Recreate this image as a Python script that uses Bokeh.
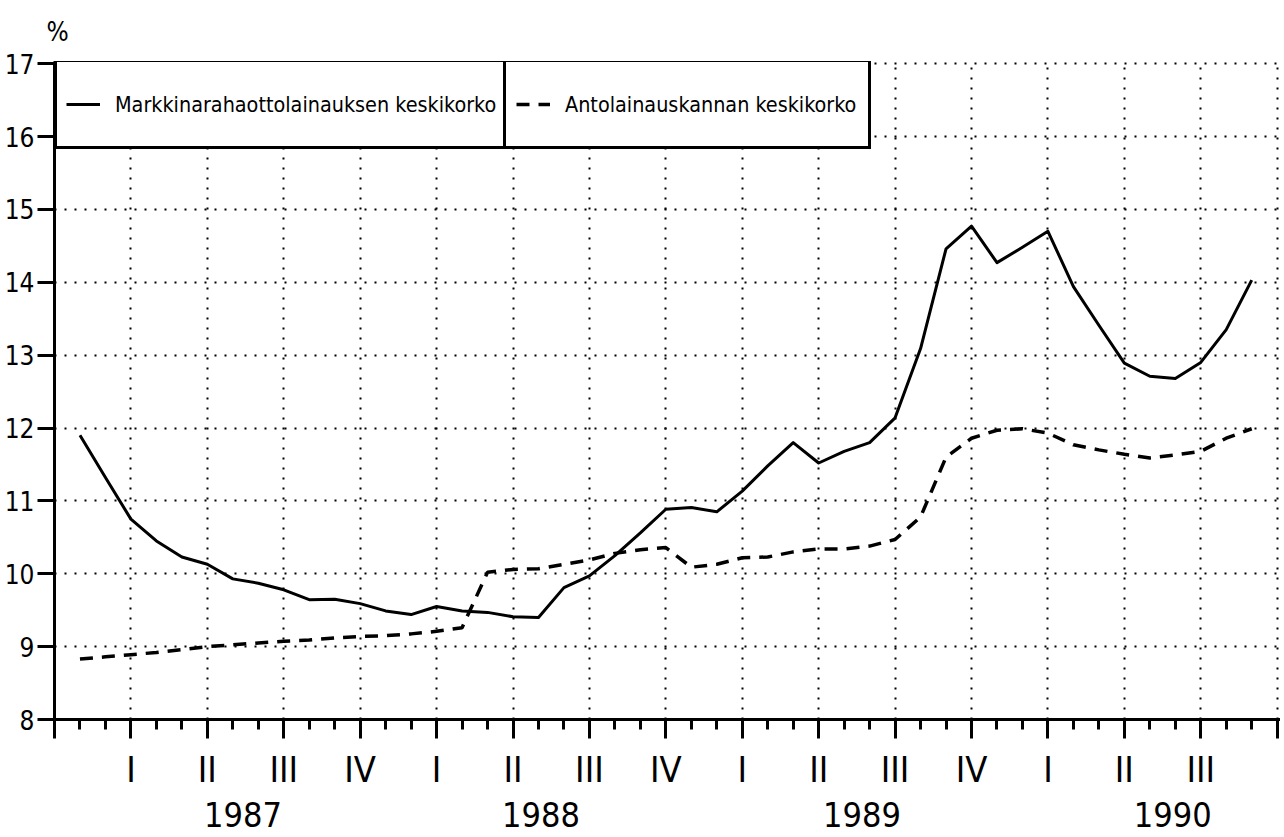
from bokeh.plotting import figure
from bokeh.models import (Range1d, FixedTicker, Legend, LegendItem, LinearAxis)
from bokeh.embed import file_html
from bokeh.resources import INLINE

# ---- data (month index 0 = start of axis, quarter ticks every 3 months) ----
months = list(range(1, 48))
market_rate = [11.90, 11.32, 10.75, 10.45, 10.23, 10.13, 9.93, 9.87, 9.78, 9.645,
               9.65, 9.59, 9.49, 9.44, 9.55, 9.49, 9.47, 9.41, 9.40, 9.81,
               9.97, 10.25, 10.56, 10.885, 10.91, 10.85, 11.135, 11.48, 11.80, 11.52,
               11.68, 11.80, 12.14, 13.09, 14.46, 14.77, 14.27, 14.48, 14.70, 13.94,
               13.41, 12.89, 12.71, 12.68, 12.90, 13.35, 14.03]
stock_rate = [8.83, 8.86, 8.89, 8.92, 8.96, 9.00, 9.025, 9.05, 9.075, 9.09,
              9.12, 9.14, 9.15, 9.175, 9.21, 9.26, 10.02, 10.06, 10.07, 10.13,
              10.19, 10.28, 10.33, 10.36, 10.09, 10.13, 10.22, 10.23, 10.30, 10.34,
              10.34, 10.38, 10.47, 10.78, 11.60, 11.86, 11.97, 11.99, 11.93, 11.77,
              11.70, 11.64, 11.59, 11.63, 11.68, 11.86, 11.99]

quarter_ticks = list(range(0, 49, 3))
quarter_labels = ["", "I", "II", "III", "IV", "I", "II", "III", "IV",
                  "I", "II", "III", "IV", "I", "II", "III", ""]
month_ticks = list(range(0, 49))
y_ticks = list(range(8, 18))
years = ["1987", "1988", "1989", "1990"]
year_pos = [7.4, 19.1, 31.7, 43.9]
series_names = ["Markkinarahaottolainauksen keskikorko", "Antolainauskannan keskikorko"]
unit_label = "%"

FONT = "DejaVu Sans Condensed, DejaVu Sans, sans-serif"

p = figure(width=1280, height=837, output_backend="svg", toolbar_location=None,
           x_range=Range1d(0, 48.13), y_range=Range1d(8, 17.03),
           title=unit_label)
p.min_border_left = 54
p.min_border_right = 0
p.min_border_top = 59
p.min_border_bottom = 118
p.outline_line_color = None
p.background_fill_color = "white"
p.border_fill_color = "white"

p.title.text_font = FONT
p.title.text_font_size = "26px"
p.title.text_font_style = "normal"
p.title.text_color = "black"
p.title.align = "left"
p.title.offset = -8
p.title.standoff = 29

# grids
p.xgrid.ticker = FixedTicker(ticks=quarter_ticks[1:])
p.ygrid.ticker = FixedTicker(ticks=y_ticks[1:])
for g in (p.xgrid, p.ygrid):
    g.grid_line_color = "black"
    g.grid_line_width = 2
    g.grid_line_dash = "2 8"

# x axis (quarters)
xa = p.xaxis[0]
xa.ticker = FixedTicker(ticks=quarter_ticks, minor_ticks=month_ticks)
xa.major_label_overrides = {t: l for t, l in zip(quarter_ticks, quarter_labels)}
xa.axis_line_width = 3
xa.major_tick_in = 0
xa.minor_tick_in = 0
xa.major_tick_out = 19
xa.minor_tick_out = 10
xa.major_tick_line_width = 3
xa.minor_tick_line_width = 3
xa.major_label_standoff = 10
xa.major_label_text_font = FONT
xa.major_label_text_font_size = "36px"
xa.major_label_text_color = "black"

# second x axis (years)
xa2 = LinearAxis(ticker=FixedTicker(ticks=year_pos),
                 major_label_overrides={x: t for x, t in zip(year_pos, years)})
xa2.axis_line_color = None
xa2.major_tick_line_color = None
xa2.minor_tick_line_color = None
xa2.major_tick_out = 0
xa2.major_tick_in = 0
xa2.minor_tick_out = 0
xa2.minor_tick_in = 0
xa2.major_label_standoff = 9
xa2.major_label_text_font = FONT
xa2.major_label_text_font_size = "34px"
xa2.major_label_text_color = "black"
p.add_layout(xa2, "below")

# y axis
ya = p.yaxis[0]
ya.ticker = FixedTicker(ticks=y_ticks)
ya.axis_line_width = 3
ya.major_tick_in = 0
ya.major_tick_out = 17
ya.minor_tick_out = 0
ya.major_tick_line_width = 3
ya.major_label_standoff = 3
ya.major_label_text_font = FONT
ya.major_label_text_font_size = "26px"
ya.major_label_text_color = "black"

# lines
r1 = p.line(months, market_rate, line_color="black", line_width=3, line_join="round")
r2 = p.line(months, stock_rate, line_color="black", line_width=3.5, line_dash="13 9")

# legends: two boxes side by side on top-left
common = dict(orientation="vertical", border_line_color="black", border_line_width=3,
              border_line_alpha=1.0,
              background_fill_color="white", background_fill_alpha=1.0,
              glyph_width=34, label_standoff=15, margin=0, spacing=0,
              label_text_font=FONT, label_text_font_size="21.4px",
              label_text_baseline="middle", label_text_color="black")
leg1 = Legend(items=[LegendItem(label=series_names[0], renderers=[r1])],
              location=(0, 570), padding=9, glyph_height=66, label_height=66,
              label_width=382, **common)
leg2 = Legend(items=[LegendItem(label=series_names[1], renderers=[r2])],
              location=(449, 570), padding=10, glyph_height=64, label_height=64,
              label_width=293, **common)
p.add_layout(leg1, "center")
p.add_layout(leg2, "center")

open("out.html", "w").write(file_html(p, INLINE))
